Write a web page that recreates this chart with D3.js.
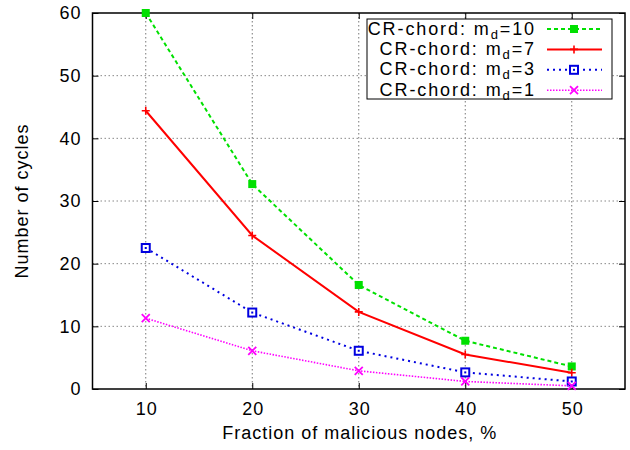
<!DOCTYPE html>
<html>
<head>
<meta charset="utf-8">
<script src="https://cdn.jsdelivr.net/npm/d3@7"></script>
<style>
  html, body { margin: 0; padding: 0; background: #fff; }
  svg { display: block; font-family: "Liberation Sans", Arial, Helvetica, sans-serif; }
</style>
</head>
<body>
<svg id="chart" width="630" height="450"></svg>
<script>
// Fraction of malicious nodes (%)
const fractions = [10, 20, 30, 40, 50];
// Number of cycles for each m_d setting
const cyclesMd10 = [60.0, 32.7, 16.6, 7.7, 3.6];
const cyclesMd7  = [44.4, 24.5, 12.3, 5.5, 2.6];
const cyclesMd3  = [22.5, 12.2, 6.1, 2.65, 1.2];
const cyclesMd1  = [11.3, 6.1, 2.9, 1.2, 0.5];
const xTicks = [10, 20, 30, 40, 50];
const yTicks = [0, 10, 20, 30, 40, 50, 60];
const seriesNames = ["10", "7", "3", "1"];

const series = [
  { md: seriesNames[0], values: cyclesMd10, color: "#00e000", dash: "4,3", width: 2, marker: "filledSquare" },
  { md: seriesNames[1], values: cyclesMd7,  color: "#ff0000", dash: null,  width: 2, marker: "plus" },
  { md: seriesNames[2], values: cyclesMd3,  color: "#0000e0", dash: "2,4", width: 2, marker: "openSquare" },
  { md: seriesNames[3], values: cyclesMd1,  color: "#ff00ff", dash: "1.5,1.5", width: 1.6, marker: "cross" }
];

const svg = d3.select("#chart");
const pLeft = 92.5, pRight = 625, pTop = 13, pBottom = 389;
const fontSize = 18, spacing = 1;

const x = d3.scaleLinear().domain([5, 55]).range([pLeft, pRight]);
const y = d3.scaleLinear().domain([0, 60]).range([pBottom, pTop]);

// grid
const grid = svg.append("g");
grid.selectAll("line.gx").data(xTicks).join("line")
  .attr("x1", d => x(d)).attr("x2", d => x(d))
  .attr("y1", pTop).attr("y2", pBottom)
  .attr("stroke", "#777").attr("stroke-width", 1).attr("stroke-dasharray", "1.5,2.5");
grid.selectAll("line.gy").data(yTicks.filter(d => d > 0 && d < 60)).join("line")
  .attr("x1", pLeft).attr("x2", pRight)
  .attr("y1", d => y(d)).attr("y2", d => y(d))
  .attr("stroke", "#888").attr("stroke-width", 1).attr("stroke-dasharray", "1.5,2.5");

// axes with inward ticks on all sides
const tickLen = 6;
svg.append("g").attr("transform", `translate(0,${pBottom})`)
  .call(d3.axisBottom(x).tickValues(xTicks).tickSizeInner(-tickLen).tickSizeOuter(0).tickPadding(13))
  .call(g => g.select(".domain").remove())
  .call(g => g.selectAll(".tick text").attr("dx", spacing / 2));
svg.append("g").attr("transform", `translate(0,${pTop})`)
  .call(d3.axisTop(x).tickValues(xTicks).tickSizeInner(-tickLen).tickSizeOuter(0).tickFormat(""))
  .call(g => g.select(".domain").remove());
svg.append("g").attr("transform", `translate(${pLeft},0)`)
  .call(d3.axisLeft(y).tickValues(yTicks).tickSizeInner(-tickLen).tickSizeOuter(0).tickPadding(12))
  .call(g => g.select(".domain").remove())
  .call(g => g.selectAll(".tick text").attr("dx", spacing));
svg.append("g").attr("transform", `translate(${pRight},0)`)
  .call(d3.axisRight(y).tickValues(yTicks).tickSizeInner(-tickLen).tickSizeOuter(0).tickFormat(""))
  .call(g => g.select(".domain").remove());
svg.selectAll(".tick line").attr("stroke", "#000").attr("stroke-width", 1);
svg.selectAll(".tick text").attr("font-size", fontSize).attr("fill", "#000")
  .attr("letter-spacing", spacing)
  .attr("font-family", "'Liberation Sans', Arial, sans-serif");

// frame
svg.append("rect").attr("x", pLeft).attr("y", pTop)
  .attr("width", pRight - pLeft).attr("height", pBottom - pTop)
  .attr("fill", "none").attr("stroke", "#000").attr("stroke-width", 1.5);

// axis titles
svg.append("text").attr("x", (pLeft + pRight) / 2 + 1).attr("y", 439)
  .attr("text-anchor", "middle").attr("font-size", fontSize).attr("letter-spacing", spacing)
  .text("Fraction of malicious nodes, %");
svg.append("text").attr("transform", "translate(28,201) rotate(-90)")
  .attr("text-anchor", "middle").attr("font-size", fontSize).attr("letter-spacing", spacing)
  .text("Number of cycles");

function drawMarker(g, type, cx, cy, color) {
  const s = 4;
  if (type === "filledSquare") {
    g.append("rect").attr("x", cx - s).attr("y", cy - s).attr("width", 2 * s).attr("height", 2 * s)
      .attr("fill", color);
  } else if (type === "plus") {
    g.append("path").attr("d", `M${cx - s},${cy}H${cx + s}M${cx},${cy - s}V${cy + s}`)
      .attr("stroke", color).attr("stroke-width", 1.6).attr("fill", "none");
  } else if (type === "openSquare") {
    g.append("rect").attr("x", cx - s).attr("y", cy - s).attr("width", 2 * s).attr("height", 2 * s)
      .attr("fill", "#fff").attr("stroke", color).attr("stroke-width", 2);
    g.append("rect").attr("x", cx - 1).attr("y", cy - 1).attr("width", 2).attr("height", 2).attr("fill", color);
  } else if (type === "cross") {
    g.append("path").attr("d", `M${cx - s},${cy - s}L${cx + s},${cy + s}M${cx - s},${cy + s}L${cx + s},${cy - s}`)
      .attr("stroke", color).attr("stroke-width", 1.8).attr("fill", "none");
  }
}

const line = d3.line().x(d => x(d[0])).y(d => y(d[1]));
const plot = svg.append("g");
series.forEach(s => {
  const pts = fractions.map((f, i) => [f, s.values[i]]);
  plot.append("path").attr("d", line(pts))
    .attr("fill", "none").attr("stroke", s.color).attr("stroke-width", s.width)
    .attr("stroke-dasharray", s.dash);
  pts.forEach(p => drawMarker(plot, s.marker, x(p[0]), y(p[1]), s.color));
});

// legend
const lg = svg.append("g");
lg.append("rect").attr("x", 367).attr("y", 19).attr("width", 245).attr("height", 80)
  .attr("fill", "#fff").attr("stroke", "#000").attr("stroke-width", 1);
series.forEach((s, i) => {
  const cy = 29 + i * 20.4;
  const t = lg.append("text").attr("x", 536).attr("y", cy + 5.5)
    .attr("text-anchor", "end").attr("font-size", fontSize).attr("letter-spacing", 1.9);
  t.append("tspan").text("CR-chord: m");
  t.append("tspan").attr("dy", 4).attr("font-size", 13).text("d");
  t.append("tspan").attr("dy", -4).text("=" + s.md);
  lg.append("line").attr("x1", 547).attr("x2", 602).attr("y1", cy).attr("y2", cy)
    .attr("stroke", s.color).attr("stroke-width", s.width).attr("stroke-dasharray", s.dash);
  drawMarker(lg, s.marker, 574, cy, s.color);
});
</script>
</body>
</html>
